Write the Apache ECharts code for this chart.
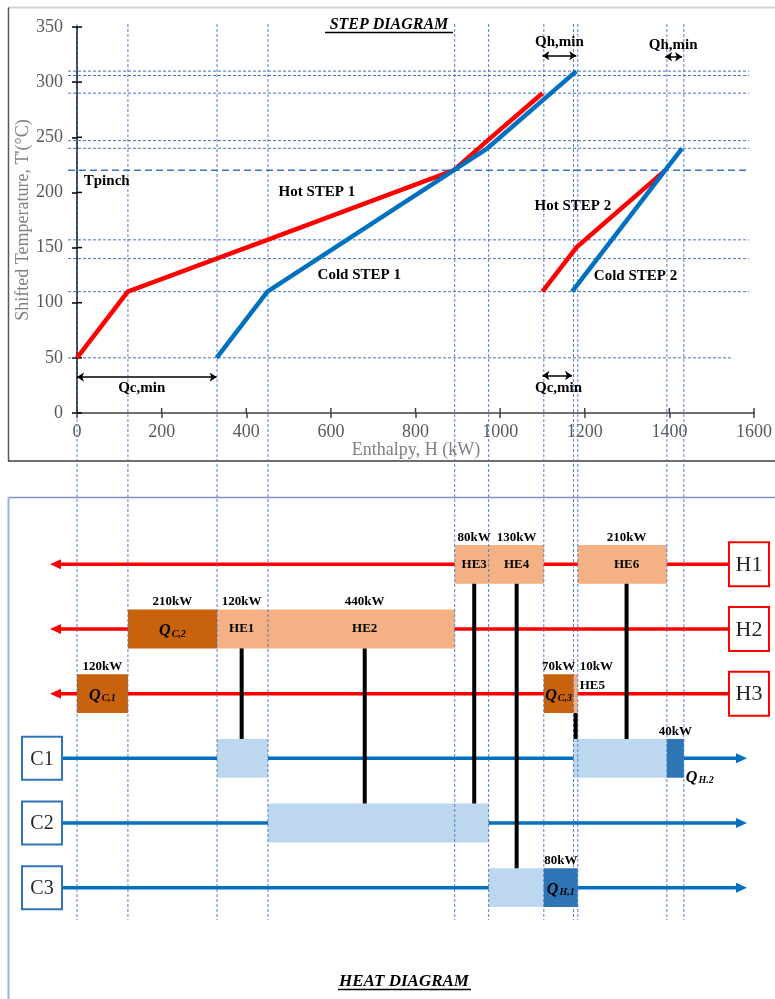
<!DOCTYPE html>
<html><head><meta charset="utf-8">
<script src="https://cdn.jsdelivr.net/npm/echarts@6/dist/echarts.min.js"></script>
<style>html,body{margin:0;padding:0;background:#fff}#c{width:775px;height:999px}</style>
</head><body><div id="c"></div>
<script>
// ---------------- DATA ----------------
const xTicks = [0,200,400,600,800,1000,1200,1400,1600];
const yTicks = [0,50,100,150,200,250,300,350];
const hot1H = [0,120,330,450,890,970,1100];
const hot1T = [50,110,140,157,220,247,290];
const cold1H = [330,450,890,970,1180];
const cold1T = [50,110,220,240,310];
const hot2H = [1100,1180,1390];
const hot2T = [110,150,220];
const cold2H = [1170,1390,1430];
const cold2T = [110,220,240];
const enthalpyBreaks = [0,120,330,450,890,970,1100,1170,1180,1390,1430];
const tempGuides = [310,306,290,247,240,157,140,110,50];
const tempGuideEndH = [1588,1588,1588,1588,1588,1588,1588,1588,1550];
const pinchT = 220;
const pinchEndH = 1585;
const gapArrowFromH = [0,1100,1100,1390];
const gapArrowToH = [330,1170,1180,1430];
const gapArrowT = [32.6,34,324,323];
const gapLabels = ['Qc,min','Qc,min','Qh,min','Qh,min'];
const gapLabelH = [153,1138,1140,1409];
const gapLabelT = [23,23,336,334];
const stepLabels = ['Tpinch','Hot STEP 1','Cold STEP 1','Hot STEP 2','Cold STEP 2'];
const stepLabelH = [16,567,667,1172,1320];
const stepLabelT = [210,200,125,188,124];

const streams = ['H1','H2','H3','C1','C2','C3'];
const exNames = ['HE1','HE2','HE3','HE4','HE5','HE6'];
const exDuty = [120,440,80,130,10,210];
const exHot = ['H2','H2','H1','H1','H3','H1'];
const exCold = ['C1','C2','C2','C3','C1','C1'];
const exFromH = [330,450,890,970,1170,1180];
const exLinkH = [388,678,936,1036,1175,1295];
const coolerSub = ['C,1','C,2','C,3'];
const coolerStream = ['H3','H2','H3'];
const coolerFromH = [0,120,1100];
const coolerDuty = [120,210,70];
const heaterSub = ['H,1','H.2'];
const heaterStream = ['C3','C1'];
const heaterFromH = [1100,1390];
const heaterDuty = [80,40];

// ---------------- STYLE / LAYOUT ----------------
const SERIF = '"Liberation Serif","Times New Roman",serif';
const GS = {left:77, top:27, width:679, height:386};
const GH = {left:77, top:532, width:679, height:388};
const C_HOTX = '#f4b183', C_COLDX = '#bdd7ee', C_COOL = '#c8620c', C_HEAT = '#2e75b6';
const RED = '#ff0000', BLUE = '#0070c0', GUIDE = '#4472c4';
const BOX_FRAC = 0.6;

// build heat diagram records from data
const boxes = [], links = [], hLabels = [];
exNames.forEach((n,i)=>{
  const from = exFromH[i], to = from + exDuty[i];
  const hr = streams.indexOf(exHot[i]), cr = streams.indexOf(exCold[i]);
  boxes.push({from,to,row:hr,color:C_HOTX});
  boxes.push({from,to,row:cr,color:C_COLDX});
  links.push({h:exLinkH[i],hr,cr});
  if (exDuty[i] < 40) {
    hLabels.push({h:to,row:hr,text:exDuty[i]+'kW',pos:'aboveRight'});
    hLabels.push({h:to,row:hr,text:n,pos:'rightMid'});
  } else {
    hLabels.push({h:exLinkH[i],row:hr,text:exDuty[i]+'kW',pos:'above'});
    hLabels.push({h:exLinkH[i],row:hr,text:n,pos:'center'});
  }
});
coolerSub.forEach((s,i)=>{
  const from = coolerFromH[i], to = from + coolerDuty[i];
  const r = streams.indexOf(coolerStream[i]);
  boxes.push({from,to,row:r,color:C_COOL});
  hLabels.push({h:(from+to)/2,row:r,text:coolerDuty[i]+'kW',pos:'above'});
  hLabels.push({h:(from+to)/2,row:r,q:s,pos:'center'});
});
heaterSub.forEach((s,i)=>{
  const from = heaterFromH[i], to = from + heaterDuty[i];
  const r = streams.indexOf(heaterStream[i]);
  boxes.push({from,to,row:r,color:C_HEAT});
  hLabels.push({h:(from+to)/2,row:r,text:heaterDuty[i]+'kW',pos:'above'});
  if (heaterDuty[i] < 50) hLabels.push({h:to,row:r,q:s,pos:'rightBottom'});
  else hLabels.push({h:(from+to)/2,row:r,q:s,pos:'center'});
});

const qRich = {
  q:{fontSize:16,fontStyle:'italic',fontWeight:'bold',fontFamily:SERIF,fill:'#000',verticalAlign:'bottom',lineHeight:20},
  s:{fontSize:10,fontStyle:'italic',fontWeight:'bold',fontFamily:SERIF,fill:'#000',verticalAlign:'bottom',lineHeight:20,padding:[0,0,0,1]}
};

const chart = echarts.init(document.getElementById('c'), null, {renderer:'canvas'});

const axisLabelStyle = {fontSize:18,fontFamily:SERIF,color:'#595959'};

const option = {
  animation:false,
  backgroundColor:'#ffffff',
  grid:[
    {left:GS.left, top:GS.top, width:GS.width, height:GS.height},
    {left:GH.left, top:GH.top, width:GH.width, height:GH.height}
  ],
  xAxis:[
    {gridIndex:0,type:'value',min:0,max:1600,interval:200,
     axisLine:{show:true,onZero:false,lineStyle:{color:'#404040',width:1.5}},
     axisTick:{show:true,length:5,lineStyle:{color:'#404040',width:1.5}},
     axisLabel:Object.assign({margin:10,formatter:v=>xTicks.includes(v)?String(v):''},axisLabelStyle),
     splitLine:{show:false}},
    {gridIndex:1,type:'value',min:0,max:1600,show:false}
  ],
  yAxis:[
    {gridIndex:0,type:'value',min:0,max:350,interval:50,
     axisLine:{show:true,onZero:false,lineStyle:{color:'#000',width:1.5}},
     axisTick:{show:true,length:5,lineStyle:{color:'#000',width:1.5}},
     axisLabel:Object.assign({margin:14,formatter:v=>yTicks.includes(v)?String(v):''},axisLabelStyle),
     splitLine:{show:false}},
    {gridIndex:1,type:'category',data:streams,inverse:true,show:false}
  ],
  graphic:[
    {type:'line',shape:{x1:8,y1:7.5,x2:775,y2:7.5},style:{stroke:'#d4d4d4',lineWidth:2},silent:true},
    {type:'line',shape:{x1:8.5,y1:7.5,x2:8.5,y2:461},style:{stroke:'#595959',lineWidth:1.5},silent:true},
    {type:'line',shape:{x1:8,y1:461,x2:775,y2:461},style:{stroke:'#404040',lineWidth:1.5},silent:true},
    {type:'line',shape:{x1:8,y1:497.5,x2:775,y2:497.5},style:{stroke:'#7f93c0',lineWidth:1.5},silent:true},
    {type:'line',shape:{x1:8.5,y1:497,x2:8.5,y2:999},style:{stroke:'#9fb1d6',lineWidth:2},silent:true},
    {type:'text',x:389,y:25,z:20,style:{text:'STEP DIAGRAM',font:'italic bold 16px '+SERIF,fill:'#000',align:'center',verticalAlign:'middle',textAlign:'center',textVerticalAlign:'middle'}},
    {type:'line',z:20,shape:{x1:325,y1:32.5,x2:453,y2:32.5},style:{stroke:'#000',lineWidth:1.5}},
    {type:'text',x:404,y:982,z:20,style:{text:'HEAT DIAGRAM',font:'italic bold 17px '+SERIF,fill:'#000',align:'center',verticalAlign:'middle',textAlign:'center',textVerticalAlign:'middle'}},
    {type:'line',z:20,shape:{x1:338,y1:989.5,x2:471,y2:989.5},style:{stroke:'#000',lineWidth:1.5}},
    {type:'text',x:416,y:450,z:20,style:{text:'Enthalpy, H (kW)',font:'18px '+SERIF,fill:'#808080',align:'center',verticalAlign:'middle',textAlign:'center',textVerticalAlign:'middle'}},
    {type:'text',x:23,y:220,rotation:Math.PI/2,z:20,style:{text:"Shifted Temperature, T'(°C)",font:'18px '+SERIF,fill:'#808080',align:'center',verticalAlign:'middle',textAlign:'center',textVerticalAlign:'middle'}}
  ],
  series:[
    // horizontal temperature guides
    {type:'custom',xAxisIndex:0,yAxisIndex:0,z:3,silent:true,
     data:tempGuides.map((t,i)=>[tempGuideEndH[i],t]),
     renderItem:(params,api)=>{
       const cs = params.coordSys;
       const p = api.coord([api.value(0),api.value(1)]);
       return {type:'line',shape:{x1:cs.x-9,y1:p[1],x2:p[0],y2:p[1]},style:{stroke:GUIDE,lineWidth:1,lineDash:[3,2]}};
     }},
    // pinch guide
    {type:'custom',xAxisIndex:0,yAxisIndex:0,z:3,silent:true,
     data:[[pinchEndH,pinchT]],
     renderItem:(params,api)=>{
       const cs = params.coordSys;
       const p = api.coord([api.value(0),api.value(1)]);
       return {type:'line',shape:{x1:cs.x-9,y1:p[1],x2:p[0],y2:p[1]},style:{stroke:GUIDE,lineWidth:1.5,lineDash:[7,4]}};
     }},
    // inner tick marks (ticks cross axis)
    {type:'custom',xAxisIndex:0,yAxisIndex:0,z:4,silent:true,
     data:xTicks.map(v=>[v,0]),
     renderItem:(params,api)=>{
       const p = api.coord([api.value(0),0]);
       return {type:'line',shape:{x1:p[0],y1:p[1],x2:p[0],y2:p[1]-5},style:{stroke:'#404040',lineWidth:1.5}};
     }},
    {type:'custom',xAxisIndex:0,yAxisIndex:0,z:4,silent:true,
     data:yTicks.map(v=>[0,v]),
     renderItem:(params,api)=>{
       const p = api.coord([0,api.value(1)]);
       return {type:'line',shape:{x1:p[0],y1:p[1],x2:p[0]+5,y2:p[1]},style:{stroke:'#000',lineWidth:1.5}};
     }},
    // composite curves
    {name:'Hot STEP 1',type:'line',xAxisIndex:0,yAxisIndex:0,z:5,symbol:'none',showSymbol:false,
     data:hot1H.map((h,i)=>[h,hot1T[i]]),lineStyle:{color:RED,width:4.5}},
    {name:'Cold STEP 1',type:'line',xAxisIndex:0,yAxisIndex:0,z:5,symbol:'none',showSymbol:false,
     data:cold1H.map((h,i)=>[h,cold1T[i]]),lineStyle:{color:BLUE,width:4.5}},
    {name:'Hot STEP 2',type:'line',xAxisIndex:0,yAxisIndex:0,z:5,symbol:'none',showSymbol:false,
     data:hot2H.map((h,i)=>[h,hot2T[i]]),lineStyle:{color:RED,width:4.5}},
    {name:'Cold STEP 2',type:'line',xAxisIndex:0,yAxisIndex:0,z:5,symbol:'none',showSymbol:false,
     data:cold2H.map((h,i)=>[h,cold2T[i]]),lineStyle:{color:BLUE,width:4.5}},
    // min utility arrows
    {type:'lines',coordinateSystem:'cartesian2d',xAxisIndex:0,yAxisIndex:0,z:6,silent:true,
     symbol:['arrow','arrow'],symbolSize:7,
     lineStyle:{color:'#000',width:1.5,opacity:1,curveness:0},
     data:gapArrowFromH.map((f,i)=>({coords:[[f,gapArrowT[i]],[gapArrowToH[i],gapArrowT[i]]]}))},
    // step-diagram labels
    {type:'custom',xAxisIndex:0,yAxisIndex:0,z:7,silent:true,
     data:stepLabels.map((s,i)=>[stepLabelH[i],stepLabelT[i]]).concat(gapLabels.map((s,i)=>[gapLabelH[i],gapLabelT[i]])),
     renderItem:(params,api)=>{
       const i = params.dataIndex;
       const txt = i < stepLabels.length ? stepLabels[i] : gapLabels[i-stepLabels.length];
       const p = api.coord([api.value(0),api.value(1)]);
       return {type:'text',x:p[0],y:p[1],style:{text:txt,font:'bold 15px '+SERIF,fill:'#000',
         align:i===0?'left':'center',verticalAlign:'middle'}};
     }},
    // heat diagram stream lines with arrows and name boxes
    {type:'custom',xAxisIndex:1,yAxisIndex:1,z:1,silent:true,
     data:streams.map((s,i)=>[0,i]),
     renderItem:(params,api)=>{
       const cs = params.coordSys;
       const i = params.dataIndex;
       const y = api.coord([0,i])[1];
       const right = cs.x + cs.width;
       const hot = streams[i].charAt(0) === 'H';
       if (hot) {
         const tip = cs.x - 27;
         return {type:'group',children:[
           {type:'line',shape:{x1:tip+9,y1:y,x2:right-27,y2:y},style:{stroke:RED,lineWidth:3.5}},
           {type:'polygon',shape:{points:[[tip,y],[tip+11,y-5],[tip+11,y+5]]},style:{fill:RED}},
           {type:'rect',shape:{x:right-27,y:y-22,width:40,height:44},style:{fill:'#fff',stroke:RED,lineWidth:2}},
           {type:'text',x:right-7,y:y+1,style:{text:streams[i],font:'22px '+SERIF,fill:'#262626',align:'center',verticalAlign:'middle'}}
         ]};
       } else {
         const tip = right - 9;
         return {type:'group',children:[
           {type:'line',shape:{x1:cs.x-15,y1:y,x2:tip-9,y2:y},style:{stroke:BLUE,lineWidth:3.5}},
           {type:'polygon',shape:{points:[[tip,y],[tip-11,y-5],[tip-11,y+5]]},style:{fill:BLUE}},
           {type:'rect',shape:{x:cs.x-55,y:y-21.5,width:40,height:43},style:{fill:'#fff',stroke:'#2e75b6',lineWidth:2}},
           {type:'text',x:cs.x-35,y:y+1,style:{text:streams[i],font:'20px '+SERIF,fill:'#262626',align:'center',verticalAlign:'middle'}}
         ]};
       }
     }},
    // heat boxes
    {type:'custom',xAxisIndex:1,yAxisIndex:1,z:2,silent:true,
     data:boxes.map(b=>[b.from,b.row,b.to]),
     renderItem:(params,api)=>{
       const b = boxes[params.dataIndex];
       const p1 = api.coord([api.value(0),api.value(1)]);
       const p2 = api.coord([api.value(2),api.value(1)]);
       const h = api.size([0,1])[1]*BOX_FRAC;
       return {type:'rect',shape:{x:p1[0],y:p1[1]-h/2,width:p2[0]-p1[0],height:h},style:{fill:b.color}};
     }},
    // vertical enthalpy guides spanning both diagrams
    {type:'custom',xAxisIndex:1,yAxisIndex:1,z:3,silent:true,
     data:enthalpyBreaks.map(h=>[h,0]),
     renderItem:(params,api)=>{
       const cs = params.coordSys;
       const x = api.coord([api.value(0),0])[0];
       return {type:'line',shape:{x1:x,y1:GS.top-3,x2:x,y2:cs.y+cs.height},style:{stroke:GUIDE,lineWidth:1,lineDash:[3,2],opacity:0.9}};
     }},
    // exchanger links
    {type:'custom',xAxisIndex:1,yAxisIndex:1,z:4,silent:true,
     data:links.map(l=>[l.h,l.hr,l.cr]),
     renderItem:(params,api)=>{
       const h = api.size([0,1])[1]*BOX_FRAC;
       const a = api.coord([api.value(0),api.value(1)]);
       const b = api.coord([api.value(0),api.value(2)]);
       return {type:'line',shape:{x1:a[0],y1:a[1]+h/2,x2:b[0],y2:b[1]-h/2},style:{stroke:'#000',lineWidth:4}};
     }},
    // heat labels
    {type:'custom',xAxisIndex:1,yAxisIndex:1,z:8,silent:true,
     data:hLabels.map(l=>[l.h,l.row]),
     renderItem:(params,api)=>{
       const l = hLabels[params.dataIndex];
       const p = api.coord([api.value(0),api.value(1)]);
       const h = api.size([0,1])[1]*BOX_FRAC;
       let x = p[0], y = p[1], align = 'center', va = 'middle';
       if (l.pos === 'above') { y = p[1]-h/2-1; va = 'bottom'; }
       else if (l.pos === 'aboveRight') { x = p[0]+2; y = p[1]-h/2-1; va = 'bottom'; align = 'left'; }
       else if (l.pos === 'rightMid') { x = p[0]+2; y = p[1]-8; align = 'left'; }
       else if (l.pos === 'rightBottom') { x = p[0]+2; y = p[1]+h/2-2; align = 'left'; }
       if (l.q) {
         return {type:'text',x:x,y:y,style:{text:'{q|Q}{s|'+l.q+'}',rich:qRich,align:align,verticalAlign:va}};
       }
       return {type:'text',x:x,y:y,style:{text:l.text,font:'bold 13px '+SERIF,fill:'#000',align:align,verticalAlign:va}};
     }}
  ]
};
chart.setOption(option);
</script>
</body></html>
